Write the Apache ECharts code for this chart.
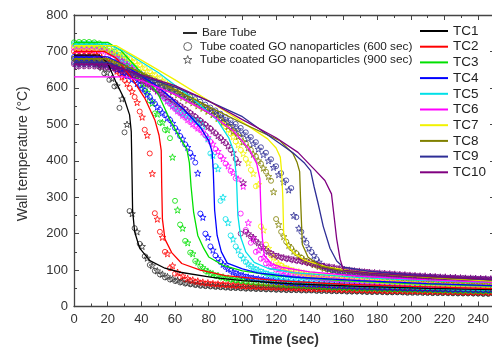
<!DOCTYPE html>
<html>
<head>
<meta charset="utf-8">
<script src="https://cdn.jsdelivr.net/npm/echarts@6/dist/echarts.min.js"></script>
<style>
html, body { margin: 0; padding: 0; background: #fff; }
#chart { width: 492px; height: 347px; }
</style>
</head>
<body>
<div id="chart"></div>
<script>
// sample times of the coated-tube markers (sec)
const circleTimes = [0,3,6,9,12,15,18,21,24,27,30,33, 36,39,42,45,48,51,54,57,60,63,66,69,
    72,75,78,81,84,87,90,93,96,99,102,105, 108,111,114,117,120,123,126,129,132,135,138,141,
    144,147,150,153,156,159,162,165,168,171,174,177, 180,183,186,189,192,195,198,201,204,207,210,213,
    216,219,222,225,228,231,234,237,240,243,246,249];
const starTimes = [1.5,4.5,7.5,10.5,13.5,16.5,19.5,22.5,25.5,28.5,31.5,34.5,
    37.5,40.5,43.5,46.5,49.5,52.5,55.5,58.5,61.5,64.5,67.5,70.5,
    73.5,76.5,79.5,82.5,85.5,88.5,91.5,94.5,97.5,100.5,103.5,106.5,
    109.5,112.5,115.5,118.5,121.5,124.5,127.5,130.5,133.5,136.5,139.5,142.5,
    145.5,148.5,151.5,154.5,157.5,160.5,163.5,166.5,169.5,172.5,175.5,178.5,
    181.5,184.5,187.5,190.5,193.5,196.5,199.5,202.5,205.5,208.5,211.5,214.5,
    217.5,220.5,223.5,226.5,229.5,232.5,235.5,238.5,241.5,244.5,247.5];

const tcNames = ['TC1', 'TC2', 'TC3', 'TC4', 'TC5', 'TC6', 'TC7', 'TC8', 'TC9', 'TC10'];

// bare tube, [time, temperature]
const bareTC1 = [[0,690],[15,690],[20,668],[25,615],[30,568],[33,526],[34,480],[34.4,380],[34.8,263],[36,205],[39,160],[45,126],[54,105],[63,94],[82,80],[100,71],[130,62],[170,55],[210,50],[250,46]];
const bareTC2 = [[0,700],[18,700],[25,682],[35,622],[42,572],[48,512],[50.5,470],[51.8,428],[52.1,330],[52.5,240],[54,185],[58,148],[64,118],[75,100],[90,85],[120,71],[160,61],[200,55],[250,49]];
const bareTC3 = [[0,725],[20,725],[28,702],[40,642],[50,583],[57,512],[63,462],[67,432],[68.5,395],[69.5,330],[71,260],[73.5,195],[77,160],[80,136],[89,112],[100,98],[120,84],[160,71],[200,63],[250,56]];
const bareTC4 = [[0,685],[20,685],[30,662],[50,603],[65,542],[75,492],[80,455],[82,425],[82.7,373],[83.5,265],[85,195],[87.5,150],[91,119],[100,103],[109,92],[130,81],[170,71],[210,63],[250,57]];
const bareTC5 = [[0,720],[20,720],[30,700],[50,642],[70,572],[85,512],[92,462],[95,425],[96.5,350],[97.3,250],[99,190],[102,150],[107,121],[115,105],[130,93],[170,79],[210,71],[250,65]];
const bareTC6 = [[0,630],[30,630],[40,620],[60,582],[80,532],[95,480],[104,432],[108.5,392],[110.4,350],[111,260],[111.8,190],[113,140],[117,118],[124,107],[140,95],[170,83],[210,73],[250,66]];
const bareTC7 = [[0,716],[25,716],[40,676],[60,622],[81,562],[100,506],[115,460],[120,435],[122.5,410],[123.3,370],[124,300],[124.5,200],[127,165],[131,145],[137,127],[150,109],[165,98],[190,87],[220,77],[250,69]];
const bareTC8 = [[0,680],[20,680],[40,642],[70,572],[100,503],[122,456],[130,420],[132.5,395],[134,370],[134.5,300],[135,240],[135.6,170],[139,135],[147,110],[160,98],[190,86],[220,78],[250,72]];
const bareTC9 = [[0,670],[20,670],[40,632],[60,602],[75,574],[100,521],[118,461],[130,422],[137,393],[140.5,373],[142.5,330],[145,282],[148,220],[152,160],[156,125],[160,108],[175,97],[200,87],[225,79],[250,73]];
const bareTC10 = [[0,665],[20,665],[40,636],[60,606],[80,564],[100,513],[120,463],[133,423],[143,375],[149,346],[152.9,309],[154.5,245],[156,185],[158,130],[160,100],[175,92],[200,85],[225,79],[250,74]];

// tube coated GO nanoparticles (600 sec), values at circleTimes
const coated600TC1 = [680,681,681,679,672,658,640,622,604,545,478,262, 215,172,138,114,98,88,80,74,70,66,63,61,
    59,57,56,55,54,53,52,51,51,50,49,49, 48,48,47,47,46,46,45,45,45,44,44,44, 43,43,43,42,42,42,41,41,41,41,40,40,
    40,40,39,39,39,39,38,38,38,38,38,37, 37,37,37,37,36,36,36,36,36,35,35,35];
const coated600TC2 = [700,701,701,700,697,690,680,668,655,640,622,600, 575,535,485,420,256,205,150,105,90,80,74,70,
    67,65,63,62,61,60,59,58,57,56,55,55, 54,54,53,53,52,52,51,51,50,50,49,49, 48,48,48,47,47,46,46,46,45,45,45,44,
    44,44,43,43,43,43,42,42,42,42,41,41, 41,41,40,40,40,40,39,39,39,39,38,38];
const coated600TC3 = [725,726,726,726,725,722,716,708,699,690,680,668, 655,630,600,565,530,505,485,462,290,225,180,148,
    125,110,98,90,84,80,77,74,72,70,68,66, 65,64,63,62,61,60,59,58,57,57,56,55, 55,54,53,53,52,52,51,51,50,50,49,49,
    49,48,48,47,47,47,46,46,46,45,45,45, 44,44,44,44,43,43,43,43,42,42,42,42];
const coated600TC4 = [685,686,686,685,683,679,673,666,658,650,641,631, 620,607,592,575,557,540,525,512,490,468,445,422,
    395,255,200,165,140,122,108,98,91,86,82,79, 76,74,72,70,68,67,66,64,63,62,61,60, 60,59,58,57,57,56,55,55,54,54,53,53,
    52,52,51,51,50,50,50,49,49,48,48,48, 47,47,47,47,46,46,46,46,45,45,45,45];
const coated600TC5 = [720,721,721,721,720,718,714,708,700,690,679,667, 655,642,628,614,600,586,572,558,545,533,525,518,
    512,505,470,420,385,290,240,195,165,140,122,110, 102,96,91,87,84,81,79,77,75,73,72,70, 69,68,67,66,65,64,63,62,61,61,60,59,
    59,58,57,57,56,56,55,55,54,54,53,53, 53,52,52,51,51,51,50,50,50,49,49,49];
const coated600TC6 = [710,711,711,711,710,708,704,698,690,681,671,660, 648,636,623,610,597,584,570,556,542,530,518,506,
    494,484,470,452,432,412,392,372,352,255,210,175, 150,131,118,108,101,96,92,89,86,84,82,80, 78,77,76,74,73,72,71,70,69,68,67,66,
    65,65,64,63,62,62,61,60,60,59,59,58, 58,57,57,56,56,55,55,55,54,54,53,53];
const coated600TC7 = [715,716,716,716,715,713,710,707,703,697,690,681, 672,663,654,645,636,627,618,609,600,591,582,573,
    564,555,545,535,524,512,494,475,453,430,405,375, 330,220,170,140,122,112,105,100,96,93,90,88, 86,84,82,81,79,78,77,76,75,74,73,72,
    71,70,70,69,68,67,67,66,65,65,64,63, 63,62,62,61,61,60,60,59,59,58,58,58];
const coated600TC8 = [680,681,681,681,680,678,676,674,672,667,662,656, 649,642,635,628,620,612,605,597,590,582,575,567,
    560,552,545,537,528,517,505,493,479,465,448,430, 412,392,370,345,240,205,178,160,146,134,125,118, 112,107,103,100,97,95,93,91,89,88,86,85,
    84,83,82,81,80,79,78,78,77,76,75,75, 74,73,73,72,71,71,70,70,69,69,68,68];
const coated600TC9 = [670,671,671,671,670,669,667,665,662,658,654,649, 644,639,633,627,621,615,609,602,596,589,583,576,
    569,562,554,546,538,529,520,511,501,490,478,465, 451,437,422,404,385,366,346,325,245,205,175,150, 130,112,105,101,98,96,95,93,92,91,90,89,
    88,87,86,86,85,84,84,83,82,82,81,80, 80,79,78,78,77,77,76,76,75,75,74,74];
const coated600TC10 = [665,666,666,666,665,663,661,658,655,650,645,638, 631,623,615,606,597,588,579,569,560,550,541,531,
    521,510,499,488,475,462,448,430,405,200,205,192, 178,165,153,145,139,135,132,130,127,124,121,118, 115,112,110,108,105,103,101,99,97,96,95,93,
    92,91,90,89,88,87,86,85,84,83,82,82, 81,80,79,79,78,78,77,77,76,76,75,75];

// tube coated GO nanoparticles (900 sec), values at starTimes
const coated900TC1 = [675,676,676,674,668,656,642,626,606,570,500,255, 205,165,133,112,98,89,82,76,72,68,65,63,
    61,59,58,57,56,55,54,53,53,52,51,51, 50,50,49,49,48,48,47,47,47,46,46,46, 45,45,45,44,44,44,43,43,43,42,42,42,
    42,41,41,41,41,40,40,40,40,39,39,39, 39,39,38,38,38,38,38,37,37,37,37];
const coated900TC2 = [695,696,696,694,690,683,673,660,646,630,612,590, 560,520,470,365,240,190,145,112,94,84,77,73,
    70,67,65,63,62,61,60,59,58,57,56,56, 55,54,54,53,53,52,52,51,51,50,50,49, 49,49,48,48,47,47,47,46,46,46,45,45,
    45,44,44,44,44,43,43,43,43,42,42,42, 42,41,41,41,41,40,40,40,40,40,39];
const coated900TC3 = [720,721,721,720,718,713,706,697,686,675,662,648, 632,612,588,558,528,505,485,410,265,215,175,145,
    122,107,97,90,85,81,78,75,73,71,69,68, 66,65,64,63,62,61,60,59,59,58,57,57, 56,55,55,54,54,53,53,52,52,51,51,51,
    50,50,49,49,49,48,48,48,47,47,47,46, 46,46,46,45,45,45,45,44,44,44,44];
const coated900TC4 = [680,681,681,680,677,672,666,659,651,643,634,624, 612,598,582,565,548,532,518,503,482,460,437,412,
    366,245,190,155,132,116,104,95,89,85,81,78, 76,74,72,70,69,68,66,65,64,63,62,61, 61,60,59,58,58,57,57,56,55,55,54,54,
    53,53,53,52,52,51,51,51,50,50,50,49, 49,49,48,48,48,48,47,47,47,47,46];
const coated900TC5 = [715,716,716,716,714,711,706,699,690,680,669,657, 645,632,619,605,592,579,566,553,541,530,521,514,
    507,495,460,415,378,300,230,185,155,133,117,107, 100,94,89,86,83,80,78,76,75,73,72,71, 70,69,68,67,66,65,64,63,63,62,61,61,
    60,59,59,58,58,57,57,56,56,55,55,55, 54,54,53,53,53,52,52,52,51,51,51];
const coated900TC6 = [705,706,706,706,705,702,698,692,684,675,665,654, 642,630,617,604,591,578,564,550,537,525,513,501,
    490,479,464,446,426,406,386,368,350,330,230,185, 155,135,120,110,103,97,93,90,87,85,83,81, 80,78,77,76,74,73,72,71,70,69,68,68,
    67,66,65,65,64,63,63,62,62,61,60,60, 59,59,58,58,58,57,57,56,56,56,55];
const coated900TC7 = [710,711,711,711,710,708,705,701,696,690,682,673, 664,655,646,637,628,619,610,601,592,583,574,565,
    556,547,537,527,516,503,486,466,444,420,394,365, 335,210,160,135,118,109,103,98,95,92,89,87, 85,83,82,80,79,78,77,76,75,74,73,72,
    71,70,70,69,68,68,67,66,66,65,64,64, 63,63,62,62,61,61,60,60,60,59,59];
const coated900TC8 = [675,676,676,676,675,673,671,668,665,660,654,648, 641,634,627,619,611,604,596,589,581,574,566,559,
    551,544,536,527,517,506,494,481,467,452,436,418, 400,380,357,315,225,192,168,152,139,129,121,115, 110,105,102,99,96,94,92,90,89,87,86,85,
    84,83,82,81,80,79,78,78,77,76,75,75, 74,73,73,72,71,71,70,70,69,69,68];
const coated900TC9 = [665,666,666,666,665,664,662,659,656,652,647,642, 637,631,625,619,613,606,600,593,587,580,573,566,
    559,551,543,535,526,517,507,497,486,474,461,447, 432,417,400,382,362,342,320,250,215,185,160,140, 122,110,104,100,97,95,94,92,91,90,89,88,
    87,86,86,85,84,84,83,82,82,81,81,80, 79,79,78,78,77,77,76,76,75,75,74];
const coated900TC10 = [660,661,661,661,660,659,657,654,651,647,642,636, 628,620,612,603,594,585,575,566,556,547,537,527,
    516,505,494,482,469,456,441,422,395,340,200,190, 175,162,151,143,138,134,131,128,126,123,120,117, 114,111,109,107,104,102,100,98,97,95,94,93,
    92,91,90,89,88,87,86,85,84,84,83,82, 81,81,80,80,79,78,78,77,77,76,76];

const bareTube = [bareTC1, bareTC2, bareTC3, bareTC4, bareTC5, bareTC6, bareTC7, bareTC8, bareTC9, bareTC10];
const coated600 = [coated600TC1, coated600TC2, coated600TC3, coated600TC4, coated600TC5,
    coated600TC6, coated600TC7, coated600TC8, coated600TC9, coated600TC10];
const coated900 = [coated900TC1, coated900TC2, coated900TC3, coated900TC4, coated900TC5,
    coated900TC6, coated900TC7, coated900TC8, coated900TC9, coated900TC10];

const tcColors = ['#000000', '#ff0000', '#00e000', '#0000ff', '#00e0e8', '#ff00ff', '#f2f200', '#808000', '#2e2e96', '#800080'];
const FONT = '"Liberation Sans", Arial, sans-serif';
const AXIS = '#444';
const STAR = 'path://M0,-10L2.35,-3.24L9.51,-3.09L3.8,1.24L5.88,8.09L0,4L-5.88,8.09L-3.8,1.24L-9.51,-3.09L-2.35,-3.24Z';
const LEG600 = 'Tube coated GO nanoparticles (600 sec)';
const LEG900 = 'Tube coated GO nanoparticles (900 sec)';

const withTimes = (times, values) => values.map((v, i) => [times[i], v]);
const hollow = (c) => ({ color: 'rgba(0,0,0,0)', borderColor: c, borderWidth: 1 });

const series = [];
coated600.forEach((vals, k) => series.push({
    type: 'scatter', name: tcNames[k] + ' 600', data: withTimes(circleTimes, vals),
    symbol: 'circle', symbolSize: 5, itemStyle: hollow(k === 0 ? '#333' : tcColors[k]), z: 2,
}));
coated900.forEach((vals, k) => series.push({
    type: 'scatter', name: tcNames[k] + ' 900', data: withTimes(starTimes, vals),
    symbol: STAR, symbolSize: 6.5, itemStyle: hollow(k === 0 ? '#333' : tcColors[k]), z: 2,
}));
bareTube.forEach((pts, k) => series.push({
    type: 'line', name: tcNames[k], data: pts, symbol: 'none', z: 3,
    lineStyle: { color: tcColors[k], width: 1.3 }, itemStyle: { color: tcColors[k] },
}));
// legend-only entries
series.push({ type: 'line', name: 'Bare Tube', data: [], symbol: 'none', lineStyle: { color: '#111', width: 1.6 }, itemStyle: { color: '#111' } });
series.push({ type: 'scatter', name: LEG600, data: [], symbol: 'circle', symbolSize: 7, itemStyle: { color: 'rgba(0,0,0,0)', borderColor: '#444', borderWidth: 1 } });
series.push({ type: 'scatter', name: LEG900, data: [], symbol: STAR, symbolSize: 8, itemStyle: { color: 'rgba(0,0,0,0)', borderColor: '#444', borderWidth: 1 } });

const frameAxis = (extra) => Object.assign({
    type: 'value',
    axisLine: { show: true, onZero: false, lineStyle: { color: AXIS, width: 1.3 } },
    axisTick: { show: true, inside: true, length: 5, lineStyle: { color: AXIS, width: 1 } },
    minorTick: { show: true, splitNumber: 2, length: 3, lineStyle: { color: AXIS, width: 1 } },
    splitLine: { show: false },
}, extra);

const labelStyle = { fontSize: 13, color: '#333', fontFamily: FONT };
const legendText = (size) => ({ fontSize: size, color: '#222', fontFamily: FONT });

const option = {
    animation: false,
    backgroundColor: '#fff',
    grid: { left: 74, top: 15, width: 421, height: 291.5, outerBoundsMode: 'none', containLabel: false },
    xAxis: [
        frameAxis({
            position: 'bottom', min: 0, max: 250, interval: 20,
            axisLabel: Object.assign({ margin: 6, showMaxLabel: false }, labelStyle),
            name: 'Time (sec)', nameLocation: 'middle', nameGap: 27,
            nameTextStyle: { fontSize: 14, fontWeight: 'bold', color: '#333', fontFamily: FONT },
        }),
        frameAxis({ position: 'top', min: 0, max: 250, interval: 20, axisLabel: { show: false } }),
    ],
    yAxis: [
        frameAxis({
            position: 'left', min: 0, max: 800, interval: 100,
            axisLabel: Object.assign({ margin: 6 }, labelStyle),
            name: 'Wall temperature (°C)', nameLocation: 'middle', nameGap: 44,
            nameTextStyle: { fontSize: 14, color: '#333', fontFamily: FONT, padding: [0, 0, 0, 14] },
        }),
        frameAxis({ position: 'right', min: 0, max: 800, interval: 100, axisLabel: { show: false } }),
    ],
    legend: [
        {
            orient: 'vertical', left: 183, top: 27, padding: 0, icon: 'rect',
            itemWidth: 14, itemHeight: 1.8, selectedMode: false, data: ['Bare Tube'],
            textStyle: legendText(11.8),
        },
        {
            orient: 'vertical', left: 183, top: 40.5, padding: 0, itemWidth: 14, itemHeight: 8, itemGap: 1,
            selectedMode: false, data: [LEG600, LEG900],
            itemStyle: { borderWidth: 1 },
            textStyle: legendText(11.8),
        },
        {
            orient: 'vertical', left: 420, top: 24, padding: 0, icon: 'rect',
            itemWidth: 28, itemHeight: 2, itemGap: 1.7,
            selectedMode: false, data: tcNames,
            textStyle: legendText(13.5),
        },
    ],
    series: series,
};

const chart = echarts.init(document.getElementById('chart'), null, { renderer: 'canvas' });
chart.setOption(option);
</script>
</body>
</html>
